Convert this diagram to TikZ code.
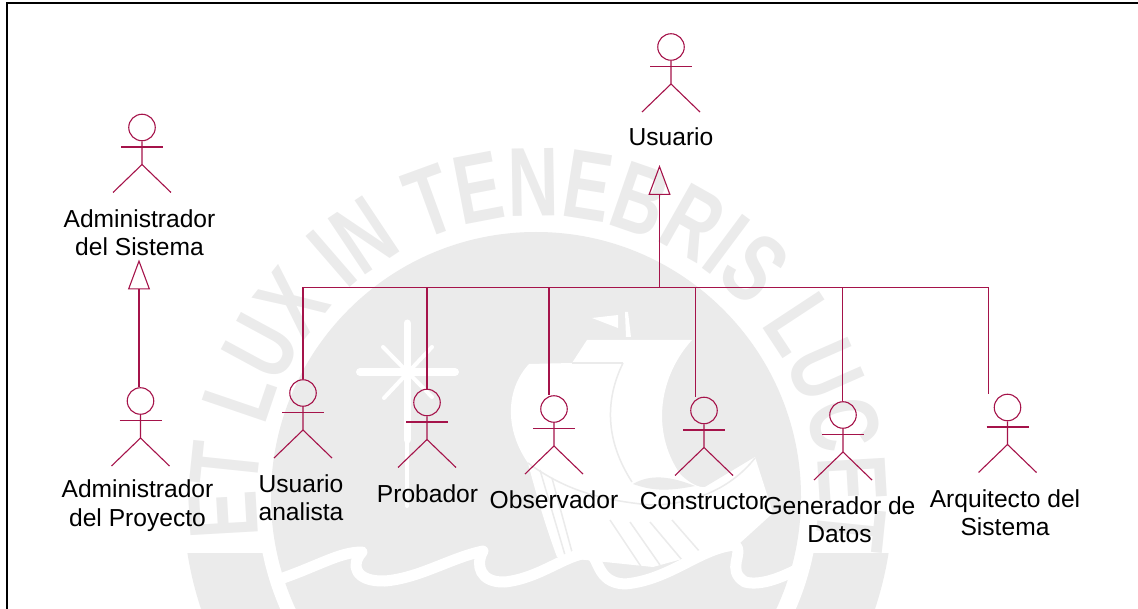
\documentclass[tikz,border=0pt]{standalone}
\usepackage{fontspec}
\setmainfont{Liberation Sans}
\newfontfamily\sealfont[FakeStretch=0.72]{Liberation Sans}
\usepackage{xcolor}
\usepackage{tikz}
\usetikzlibrary{arrows.meta,decorations.text}
\definecolor{rose}{HTML}{A5134A}
\definecolor{seal}{HTML}{EBEBEB}
\tikzset{
  rel/.style={draw=rose, line width=1.1pt},
  gen/.style={rel, -{Triangle[open, length=30pt, width=22pt, line width=1.1pt]}},
  head/.style={circle, draw=rose, line width=1.1pt, minimum size=26.5pt, inner sep=0pt},
  lab/.style={text=black, align=center, inner sep=0pt, font=\fontsize{24.6}{28.4}\selectfont},
  frame/.style={draw=black, line width=2pt},
  wave/.style={draw=white, line width=11pt, line cap=round, line join=round},
  ray/.style={draw=white, line cap=round},
  actor/.pic={
    \node[head] (-head) at (0,0) {};
    \draw[rel] (-head.south) -- (0,37) -- (-29,65) (0,37) -- (29,65);
    \draw[rel] (-21,19.5) -- (21,19.5);
  },
}
\begin{document}
\begin{tikzpicture}[x=1pt,y=-1pt]
  \useasboundingbox (0,0) rectangle (1138,609);

  % seal behind the diagram
  \begin{scope}
    \clip (0,0) rectangle (1138,609);
    \begin{scope}
      \clip (0,553) rectangle (1138,609);
      \fill[seal] (538,497) circle (355);
    \end{scope}
    \fill[white] (538,497) circle (281);
    \fill[seal] (536,497) circle (265);
    \path[decorate, decoration={text along path, text align=fit to path,
      text={|\color{seal}\sealfont\bfseries\fontsize{98}{98}\selectfont|ET LUX IN TENEBRIS LUCET}}]
      (538,497) ++(172:281) arc[start angle=172, end angle=369, radius=281];
    % star
    \draw[ray, line width=7pt] (407,323) -- (407,440);
    \draw[ray, line width=4pt] (407,440) -- (407,506);
    \draw[ray, line width=8pt] (360,372) -- (455,372);
    \draw[ray, line width=4pt] (383,347) -- (432,397) (432,347) -- (384,398);
    % ship
    \fill[white] (592,318) -- (618,315) -- (618,328) -- cycle;
    \fill[white] (625,312) -- (628,312) -- (631,337) -- (626,337) -- cycle;
    \fill[white] (529,364) -- (572,363) -- (587,340) -- (692,340)
      .. controls (660,375) and (650,430) .. (680,474)
      .. controls (690,484) and (700,488) .. (705,487)
      -- (755,457) -- (773,513) -- (740,543) -- (653,567) -- (557,557)
      .. controls (545,525) and (535,490) .. (528,463)
      .. controls (505,430) and (505,390) .. (529,364) -- cycle;
    \fill[seal] (633,484) .. controls (650,474) and (670,476) .. (695,486)
      .. controls (665,492) and (650,490) .. (633,484) -- cycle;
    \draw[seal, line width=1.5pt] (623,363) .. controls (605,400) and (605,440) .. (632,482);
    \draw[seal, line width=1.5pt] (572,363) -- (623,363);
    \draw[seal, line width=1.5pt] (528,463) .. controls (565,490) and (600,500) .. (650,505)
      .. controls (690,505) and (730,490) .. (755,458);
    \draw[seal, line width=1.5pt] (540,470) -- (565,555) (552,478) -- (572,552)
      (610,520) -- (642,568) (630,522) -- (660,565) (650,522) -- (682,560) (672,520) -- (700,552);
    % ribbon
    \draw[wave] (283,578) .. controls (320,565) and (340,552) .. (362,552)
      .. controls (350,565) and (355,582) .. (385,581)
      .. controls (420,578) and (450,558) .. (483,551)
      .. controls (475,565) and (480,583) .. (505,582)
      .. controls (540,578) and (565,555) .. (588,553)
      .. controls (600,555) and (595,583) .. (625,584)
      .. controls (670,580) and (700,548) .. (735,545)
      .. controls (745,552) and (725,570) .. (745,582)
      .. controls (760,586) and (780,578) .. (796,570);
  \end{scope}

  % frame
  \draw[frame] (7,609) -- (7,3) -- (1138,3);

  % actors
  \pic (usuario) at (671,47) {actor};
  \pic (sistema) at (142,127.5) {actor};
  \pic (proyecto) at (140.5,401) {actor};
  \pic (analista) at (303,393) {actor};
  \pic (probador) at (427,402.5) {actor};
  \pic (observador) at (554,409) {actor};
  \pic (constructor) at (704,410.5) {actor};
  \pic (generador) at (843,415) {actor};
  \pic (arquitecto) at (1007.5,407.5) {actor};

  \node[lab] (lblUsuario) at (671,137) {Usuario};
  \node[lab] (lblSistema) at (139.5,232.5) {Administrador\\del Sistema};
  \node[lab] (lblProyecto) at (137.5,505.5) {Administrador\\del Proyecto};
  \node[lab] (lblAnalista) at (301,498) {Usuario\\analista};
  \node[lab] (lblProbador) at (427.5,493.5) {Probador};
  \node[lab] (lblObservador) at (554,500) {Observador};
  \node[lab] (lblConstructor) at (703.5,501.5) {Constructor};
  \node[lab] (lblGenerador) at (839.5,520) {Generador de\\Datos};
  \node[lab] (lblArquitecto) at (1005,512.5) {Arquitecto del\\Sistema};

  % generalizations
  \coordinate (tipSistema) at (139,259.5);
  \coordinate (tipUsuario) at (659.5,165);
  \coordinate (busAnalista) at (303,287.5);
  \coordinate (busProbador) at (427,287.5);
  \coordinate (busObservador) at (549,287.5);
  \coordinate (busUsuario) at (659.5,287.5);
  \coordinate (busConstructor) at (695.3,287.5);
  \coordinate (busGenerador) at (842.7,287.5);
  \coordinate (busArquitecto) at (988.6,287.5);

  \draw[gen] (tipSistema |- proyecto-head.north) -- (tipSistema);
  \draw[gen] (busUsuario) -- (tipUsuario);
  \draw[rel] (busAnalista) -- (busArquitecto);
  \draw[rel] (busAnalista) -- (busAnalista |- analista-head.north);
  \draw[rel] (busProbador) -- (busProbador |- probador-head.north);
  \draw[rel] (busObservador) -- (busObservador |- observador-head.north);
  \draw[rel] (busConstructor) -- (busConstructor |- constructor-head.north);
  \draw[rel] (busGenerador) -- (busGenerador |- generador-head.north);
  \draw[rel] (busArquitecto) -- (busArquitecto |- arquitecto-head.north);
\end{tikzpicture}
\end{document}
